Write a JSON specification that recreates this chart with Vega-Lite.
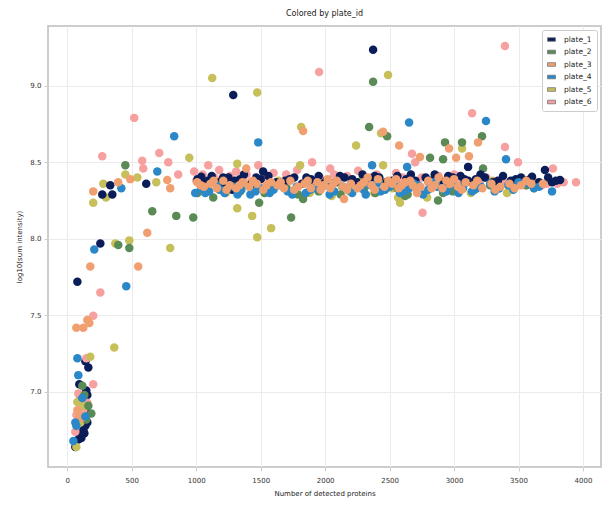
{
"$schema":"https://vega.github.io/schema/vega-lite/v6.json",
"autosize":"none",
"width":553,"height":441,
"padding":{"left":48,"top":26,"right":10,"bottom":44},
"background":"white",
"title":{"text":"Colored by plate_id","font":"DejaVu Sans","fontSize":8,"fontWeight":"normal","color":"#222","offset":8},
"config":{
 "view":{"stroke":"#bdbdbd","strokeWidth":1.5},
 "axis":{"gridColor":"#ebebeb","gridWidth":1,"domain":false,"tickColor":"#cfcfcf","tickSize":4,"labelFont":"DejaVu Sans","labelFontSize":7,"labelColor":"#333","titleFont":"DejaVu Sans","titleFontSize":7,"titleFontWeight":"normal","titleColor":"#222"},
 "legend":{"labelFont":"DejaVu Sans","labelFontSize":7.5,"labelColor":"#222"}
},
"data":{"values":[
{"plate":"plate_1","x":62,"y":6.64},{"plate":"plate_1","x":85,"y":6.69},{"plate":"plate_1","x":101,"y":6.72},{"plate":"plate_1","x":124,"y":6.75},{"plate":"plate_1","x":140,"y":6.78},{"plate":"plate_1","x":116,"y":6.82},{"plate":"plate_1","x":147,"y":6.87},{"plate":"plate_1","x":132,"y":6.915},{"plate":"plate_1","x":101,"y":6.95},{"plate":"plate_1","x":155,"y":6.98},{"plate":"plate_1","x":147,"y":7.01},{"plate":"plate_1","x":93,"y":7.05},{"plate":"plate_1","x":163,"y":7.16},{"plate":"plate_1","x":140,"y":7.2},{"plate":"plate_1","x":109,"y":6.7},{"plate":"plate_1","x":132,"y":6.73},{"plate":"plate_1","x":155,"y":6.8},
{"plate":"plate_6","x":201,"y":7.497},{"plate":"plate_6","x":256,"y":7.65},{"plate":"plate_6","x":201,"y":7.05},{"plate":"plate_6","x":85,"y":6.99},{"plate":"plate_6","x":155,"y":6.93},{"plate":"plate_6","x":70,"y":6.85},{"plate":"plate_6","x":62,"y":6.74},{"plate":"plate_6","x":116,"y":6.91},{"plate":"plate_6","x":124,"y":6.88},{"plate":"plate_6","x":147,"y":7.22},{"plate":"plate_6","x":101,"y":6.84},
{"plate":"plate_5","x":178,"y":7.23},{"plate":"plate_5","x":78,"y":6.935},{"plate":"plate_5","x":70,"y":6.64},{"plate":"plate_5","x":101,"y":6.8},{"plate":"plate_5","x":132,"y":6.91},{"plate":"plate_5","x":364,"y":7.29},
{"plate":"plate_2","x":116,"y":7.04},{"plate":"plate_2","x":186,"y":6.86},{"plate":"plate_2","x":163,"y":6.91},{"plate":"plate_2","x":132,"y":6.98},{"plate":"plate_2","x":147,"y":6.82},
{"plate":"plate_3","x":78,"y":6.88},{"plate":"plate_3","x":93,"y":6.85},{"plate":"plate_3","x":109,"y":6.83},{"plate":"plate_3","x":70,"y":7.42},{"plate":"plate_3","x":124,"y":7.42},{"plate":"plate_3","x":155,"y":7.47},{"plate":"plate_3","x":171,"y":7.45},{"plate":"plate_3","x":178,"y":7.82},{"plate":"plate_3","x":550,"y":7.82},{"plate":"plate_3","x":620,"y":8.04},
{"plate":"plate_4","x":78,"y":7.22},{"plate":"plate_4","x":85,"y":7.11},{"plate":"plate_4","x":116,"y":6.96},{"plate":"plate_4","x":140,"y":6.84},{"plate":"plate_4","x":47,"y":6.68},{"plate":"plate_4","x":62,"y":6.8},{"plate":"plate_4","x":70,"y":6.78},{"plate":"plate_4","x":209,"y":7.93},{"plate":"plate_4","x":457,"y":7.69},
{"plate":"plate_6","x":1000,"y":8.38},{"plate":"plate_6","x":1050,"y":8.42},{"plate":"plate_6","x":1093,"y":8.48},{"plate":"plate_6","x":1140,"y":8.4},{"plate":"plate_6","x":1178,"y":8.45},{"plate":"plate_6","x":1230,"y":8.36},{"plate":"plate_6","x":1264,"y":8.41},{"plate":"plate_6","x":1310,"y":8.44},{"plate":"plate_6","x":1360,"y":8.39},{"plate":"plate_6","x":1420,"y":8.37},{"plate":"plate_6","x":1481,"y":8.48},{"plate":"plate_6","x":1540,"y":8.4},{"plate":"plate_6","x":1600,"y":8.43},{"plate":"plate_6","x":1650,"y":8.36},{"plate":"plate_6","x":1698,"y":8.42},{"plate":"plate_6","x":1783,"y":8.45},{"plate":"plate_6","x":1850,"y":8.38},{"plate":"plate_6","x":1899,"y":8.5},{"plate":"plate_6","x":1960,"y":8.4},{"plate":"plate_6","x":2039,"y":8.46},{"plate":"plate_6","x":2100,"y":8.37},{"plate":"plate_6","x":2170,"y":8.41},{"plate":"plate_6","x":2256,"y":8.445},{"plate":"plate_6","x":2320,"y":8.38},{"plate":"plate_6","x":2400,"y":8.42},{"plate":"plate_6","x":2500,"y":8.36},{"plate":"plate_6","x":2600,"y":8.4},{"plate":"plate_6","x":2674,"y":8.555},{"plate":"plate_6","x":2698,"y":8.5},{"plate":"plate_6","x":2800,"y":8.37},{"plate":"plate_6","x":2880,"y":8.41},{"plate":"plate_6","x":2960,"y":8.36},{"plate":"plate_6","x":3050,"y":8.39},{"plate":"plate_6","x":3150,"y":8.35},{"plate":"plate_6","x":3250,"y":8.4},{"plate":"plate_6","x":3320,"y":8.37},{"plate":"plate_6","x":3395,"y":8.36},{"plate":"plate_6","x":3450,"y":8.35},{"plate":"plate_6","x":3530,"y":8.38},{"plate":"plate_6","x":3600,"y":8.36},{"plate":"plate_6","x":3680,"y":8.35},{"plate":"plate_6","x":3767,"y":8.46},{"plate":"plate_6","x":3800,"y":8.36},{"plate":"plate_6","x":3946,"y":8.37},
{"plate":"plate_6","x":1025,"y":8.36},{"plate":"plate_6","x":1200,"y":8.39},{"plate":"plate_6","x":1390,"y":8.42},{"plate":"plate_6","x":1570,"y":8.37},{"plate":"plate_6","x":1740,"y":8.39},{"plate":"plate_6","x":1930,"y":8.36},{"plate":"plate_6","x":2070,"y":8.42},{"plate":"plate_6","x":2210,"y":8.38},{"plate":"plate_6","x":2360,"y":8.4},{"plate":"plate_6","x":2450,"y":8.37},{"plate":"plate_6","x":2550,"y":8.43},{"plate":"plate_6","x":2750,"y":8.4},{"plate":"plate_6","x":2920,"y":8.38},{"plate":"plate_6","x":3000,"y":8.42},{"plate":"plate_6","x":3100,"y":8.37},{"plate":"plate_6","x":3200,"y":8.36},{"plate":"plate_6","x":3290,"y":8.35},{"plate":"plate_6","x":3360,"y":8.38},{"plate":"plate_6","x":3490,"y":8.37},{"plate":"plate_6","x":3560,"y":8.35},{"plate":"plate_6","x":3640,"y":8.37},{"plate":"plate_6","x":3720,"y":8.36},{"plate":"plate_6","x":3850,"y":8.37},
{"plate":"plate_6","x":271,"y":8.54},{"plate":"plate_6","x":519,"y":8.79},{"plate":"plate_6","x":581,"y":8.51},{"plate":"plate_6","x":589,"y":8.46},{"plate":"plate_6","x":713,"y":8.56},{"plate":"plate_6","x":783,"y":8.5},{"plate":"plate_6","x":984,"y":8.44},{"plate":"plate_6","x":860,"y":8.42},
{"plate":"plate_6","x":3395,"y":9.26},{"plate":"plate_6","x":1953,"y":9.09},{"plate":"plate_6","x":3140,"y":8.82},{"plate":"plate_6","x":3395,"y":8.6},{"plate":"plate_6","x":3496,"y":8.5},{"plate":"plate_6","x":2756,"y":8.17},
{"plate":"plate_5","x":1050,"y":8.33},{"plate":"plate_5","x":1150,"y":8.37},{"plate":"plate_5","x":1230,"y":8.3},{"plate":"plate_5","x":1318,"y":8.49},{"plate":"plate_5","x":1400,"y":8.35},{"plate":"plate_5","x":1560,"y":8.31},{"plate":"plate_5","x":1640,"y":8.38},{"plate":"plate_5","x":1700,"y":8.33},{"plate":"plate_5","x":1806,"y":8.48},{"plate":"plate_5","x":1880,"y":8.3},{"plate":"plate_5","x":1990,"y":8.36},{"plate":"plate_5","x":2050,"y":8.28},{"plate":"plate_5","x":2130,"y":8.34},{"plate":"plate_5","x":2190,"y":8.31},{"plate":"plate_5","x":2280,"y":8.38},{"plate":"plate_5","x":2380,"y":8.3},{"plate":"plate_5","x":2450,"y":8.48},{"plate":"plate_5","x":2520,"y":8.33},{"plate":"plate_5","x":2566,"y":8.27},{"plate":"plate_5","x":2581,"y":8.235},{"plate":"plate_5","x":2650,"y":8.36},{"plate":"plate_5","x":2730,"y":8.31},{"plate":"plate_5","x":2791,"y":8.27},{"plate":"plate_5","x":2860,"y":8.35},{"plate":"plate_5","x":2990,"y":8.32},{"plate":"plate_5","x":3062,"y":8.59},{"plate":"plate_5","x":3130,"y":8.3},{"plate":"plate_5","x":3200,"y":8.34},{"plate":"plate_5","x":3300,"y":8.38},{"plate":"plate_5","x":3411,"y":8.3},{"plate":"plate_5","x":3500,"y":8.36},{"plate":"plate_5","x":3620,"y":8.33},
{"plate":"plate_5","x":1124,"y":9.05},{"plate":"plate_5","x":1473,"y":8.955},{"plate":"plate_5","x":2488,"y":9.07},{"plate":"plate_5","x":1814,"y":8.73},{"plate":"plate_5","x":2240,"y":8.61},{"plate":"plate_5","x":2434,"y":8.69},{"plate":"plate_5","x":946,"y":8.53},{"plate":"plate_5","x":1318,"y":8.2},{"plate":"plate_5","x":1434,"y":8.15},{"plate":"plate_5","x":1473,"y":8.01},{"plate":"plate_5","x":1581,"y":8.07},{"plate":"plate_5","x":798,"y":7.94},{"plate":"plate_5","x":481,"y":7.99},{"plate":"plate_5","x":372,"y":7.97},{"plate":"plate_5","x":201,"y":8.235},{"plate":"plate_5","x":279,"y":8.36},{"plate":"plate_5","x":300,"y":8.27},{"plate":"plate_5","x":543,"y":8.4},{"plate":"plate_5","x":450,"y":8.42},{"plate":"plate_5","x":690,"y":8.37},
{"plate":"plate_2","x":1010,"y":8.3},{"plate":"plate_2","x":1090,"y":8.35},{"plate":"plate_2","x":1180,"y":8.32},{"plate":"plate_2","x":1260,"y":8.38},{"plate":"plate_2","x":1340,"y":8.31},{"plate":"plate_2","x":1450,"y":8.36},{"plate":"plate_2","x":1530,"y":8.3},{"plate":"plate_2","x":1620,"y":8.35},{"plate":"plate_2","x":1700,"y":8.33},{"plate":"plate_2","x":1790,"y":8.29},{"plate":"plate_2","x":1870,"y":8.37},{"plate":"plate_2","x":1950,"y":8.31},{"plate":"plate_2","x":2040,"y":8.34},{"plate":"plate_2","x":2120,"y":8.29},{"plate":"plate_2","x":2200,"y":8.36},{"plate":"plate_2","x":2300,"y":8.32},{"plate":"plate_2","x":2390,"y":8.3},{"plate":"plate_2","x":2470,"y":8.37},{"plate":"plate_2","x":2560,"y":8.33},{"plate":"plate_2","x":2640,"y":8.29},{"plate":"plate_2","x":2720,"y":8.35},{"plate":"plate_2","x":2800,"y":8.38},{"plate":"plate_2","x":2990,"y":8.31},{"plate":"plate_2","x":3080,"y":8.36},{"plate":"plate_2","x":3160,"y":8.32},{"plate":"plate_2","x":3280,"y":8.35},{"plate":"plate_2","x":3350,"y":8.33},{"plate":"plate_2","x":3450,"y":8.37},{"plate":"plate_2","x":3560,"y":8.35},{"plate":"plate_2","x":3650,"y":8.36},
{"plate":"plate_2","x":2372,"y":9.026},{"plate":"plate_2","x":2341,"y":8.73},{"plate":"plate_2","x":2481,"y":8.67},{"plate":"plate_2","x":2930,"y":8.63},{"plate":"plate_2","x":3062,"y":8.63},{"plate":"plate_2","x":3217,"y":8.67},{"plate":"plate_2","x":2915,"y":8.52},{"plate":"plate_2","x":2814,"y":8.53},{"plate":"plate_2","x":3225,"y":8.46},{"plate":"plate_2","x":1488,"y":8.235},{"plate":"plate_2","x":1736,"y":8.14},{"plate":"plate_2","x":977,"y":8.14},{"plate":"plate_2","x":1132,"y":8.27},{"plate":"plate_2","x":845,"y":8.15},{"plate":"plate_2","x":659,"y":8.18},{"plate":"plate_2","x":2876,"y":8.25},{"plate":"plate_2","x":1829,"y":8.26},{"plate":"plate_2","x":2915,"y":8.3},{"plate":"plate_2","x":2620,"y":8.28},{"plate":"plate_2","x":450,"y":8.48},{"plate":"plate_2","x":395,"y":7.96},{"plate":"plate_2","x":481,"y":7.94},
{"plate":"plate_1","x":1010,"y":8.39},{"plate":"plate_1","x":1060,"y":8.36},{"plate":"plate_1","x":1120,"y":8.41},{"plate":"plate_1","x":1180,"y":8.37},{"plate":"plate_1","x":1250,"y":8.4},{"plate":"plate_1","x":1300,"y":8.38},{"plate":"plate_1","x":1370,"y":8.42},{"plate":"plate_1","x":1430,"y":8.36},{"plate":"plate_1","x":1500,"y":8.39},{"plate":"plate_1","x":1560,"y":8.41},{"plate":"plate_1","x":1620,"y":8.37},{"plate":"plate_1","x":1690,"y":8.38},{"plate":"plate_1","x":1760,"y":8.4},{"plate":"plate_1","x":1820,"y":8.36},{"plate":"plate_1","x":1890,"y":8.39},{"plate":"plate_1","x":1950,"y":8.41},{"plate":"plate_1","x":2010,"y":8.38},{"plate":"plate_1","x":2080,"y":8.37},{"plate":"plate_1","x":2150,"y":8.4},{"plate":"plate_1","x":2210,"y":8.39},{"plate":"plate_1","x":2290,"y":8.42},{"plate":"plate_1","x":2350,"y":8.38},{"plate":"plate_1","x":2420,"y":8.4},{"plate":"plate_1","x":2480,"y":8.37},{"plate":"plate_1","x":2560,"y":8.41},{"plate":"plate_1","x":2630,"y":8.39},{"plate":"plate_1","x":2700,"y":8.38},{"plate":"plate_1","x":2780,"y":8.4},{"plate":"plate_1","x":2850,"y":8.42},{"plate":"plate_1","x":2920,"y":8.37},{"plate":"plate_1","x":2990,"y":8.4},{"plate":"plate_1","x":3050,"y":8.41},{"plate":"plate_1","x":3110,"y":8.38},{"plate":"plate_1","x":3170,"y":8.39},{"plate":"plate_1","x":3240,"y":8.4},{"plate":"plate_1","x":3300,"y":8.37},{"plate":"plate_1","x":3380,"y":8.41},{"plate":"plate_1","x":3440,"y":8.38},{"plate":"plate_1","x":3520,"y":8.4},{"plate":"plate_1","x":3590,"y":8.39},{"plate":"plate_1","x":3660,"y":8.37},{"plate":"plate_1","x":3730,"y":8.4},{"plate":"plate_1","x":3790,"y":8.38},
{"plate":"plate_1","x":1090,"y":8.38},{"plate":"plate_1","x":1215,"y":8.36},{"plate":"plate_1","x":1340,"y":8.39},{"plate":"plate_1","x":1465,"y":8.4},{"plate":"plate_1","x":1590,"y":8.36},{"plate":"plate_1","x":1725,"y":8.39},{"plate":"plate_1","x":1855,"y":8.4},{"plate":"plate_1","x":1980,"y":8.36},{"plate":"plate_1","x":2115,"y":8.41},{"plate":"plate_1","x":2250,"y":8.37},{"plate":"plate_1","x":2385,"y":8.41},{"plate":"plate_1","x":2520,"y":8.38},{"plate":"plate_1","x":2665,"y":8.42},{"plate":"plate_1","x":2815,"y":8.38},{"plate":"plate_1","x":2955,"y":8.41},{"plate":"plate_1","x":3080,"y":8.39},{"plate":"plate_1","x":3205,"y":8.42},{"plate":"plate_1","x":3340,"y":8.38},{"plate":"plate_1","x":3480,"y":8.39},{"plate":"plate_1","x":3560,"y":8.38},{"plate":"plate_1","x":3760,"y":8.37},
{"plate":"plate_1","x":1039,"y":8.405},{"plate":"plate_1","x":1209,"y":8.4},{"plate":"plate_1","x":1279,"y":8.32},{"plate":"plate_1","x":1434,"y":8.365},{"plate":"plate_1","x":1519,"y":8.44},{"plate":"plate_1","x":333,"y":8.35},{"plate":"plate_1","x":271,"y":8.29},{"plate":"plate_1","x":349,"y":8.29},{"plate":"plate_1","x":612,"y":8.36},{"plate":"plate_1","x":256,"y":7.97},{"plate":"plate_1","x":78,"y":7.72},{"plate":"plate_1","x":2372,"y":9.235},{"plate":"plate_1","x":1287,"y":8.94},{"plate":"plate_1","x":3109,"y":8.47},{"plate":"plate_1","x":3705,"y":8.45},{"plate":"plate_1","x":3822,"y":8.385},{"plate":"plate_1","x":3605,"y":8.405},
{"plate":"plate_4","x":992,"y":8.3},{"plate":"plate_4","x":1040,"y":8.33},{"plate":"plate_4","x":1100,"y":8.31},{"plate":"plate_4","x":1160,"y":8.35},{"plate":"plate_4","x":1220,"y":8.3},{"plate":"plate_4","x":1290,"y":8.34},{"plate":"plate_4","x":1350,"y":8.32},{"plate":"plate_4","x":1420,"y":8.29},{"plate":"plate_4","x":1500,"y":8.33},{"plate":"plate_4","x":1570,"y":8.3},{"plate":"plate_4","x":1640,"y":8.35},{"plate":"plate_4","x":1710,"y":8.31},{"plate":"plate_4","x":1780,"y":8.34},{"plate":"plate_4","x":1850,"y":8.3},{"plate":"plate_4","x":1920,"y":8.33},{"plate":"plate_4","x":2000,"y":8.35},{"plate":"plate_4","x":2070,"y":8.31},{"plate":"plate_4","x":2140,"y":8.34},{"plate":"plate_4","x":2210,"y":8.3},{"plate":"plate_4","x":2280,"y":8.33},{"plate":"plate_4","x":2350,"y":8.35},{"plate":"plate_4","x":2430,"y":8.31},{"plate":"plate_4","x":2500,"y":8.34},{"plate":"plate_4","x":2580,"y":8.3},{"plate":"plate_4","x":2650,"y":8.33},{"plate":"plate_4","x":2720,"y":8.35},{"plate":"plate_4","x":2800,"y":8.32},{"plate":"plate_4","x":2870,"y":8.34},{"plate":"plate_4","x":2940,"y":8.31},{"plate":"plate_4","x":3000,"y":8.35},{"plate":"plate_4","x":3070,"y":8.33},{"plate":"plate_4","x":3140,"y":8.31},{"plate":"plate_4","x":3210,"y":8.34},{"plate":"plate_4","x":3280,"y":8.36},{"plate":"plate_4","x":3350,"y":8.33},{"plate":"plate_4","x":3420,"y":8.35},{"plate":"plate_4","x":3500,"y":8.37},{"plate":"plate_4","x":3580,"y":8.36},{"plate":"plate_4","x":3660,"y":8.34},
{"plate":"plate_4","x":1070,"y":8.3},{"plate":"plate_4","x":1190,"y":8.32},{"plate":"plate_4","x":1320,"y":8.29},{"plate":"plate_4","x":1460,"y":8.31},{"plate":"plate_4","x":1600,"y":8.32},{"plate":"plate_4","x":1745,"y":8.29},{"plate":"plate_4","x":1885,"y":8.32},{"plate":"plate_4","x":2035,"y":8.29},{"plate":"plate_4","x":2175,"y":8.32},{"plate":"plate_4","x":2315,"y":8.29},{"plate":"plate_4","x":2465,"y":8.32},{"plate":"plate_4","x":2615,"y":8.31},{"plate":"plate_4","x":2760,"y":8.29},{"plate":"plate_4","x":2905,"y":8.33},{"plate":"plate_4","x":3035,"y":8.3},{"plate":"plate_4","x":3175,"y":8.33},{"plate":"plate_4","x":3315,"y":8.31},{"plate":"plate_4","x":3460,"y":8.32},{"plate":"plate_4","x":3620,"y":8.33},{"plate":"plate_4","x":2400,"y":8.36},{"plate":"plate_4","x":2550,"y":8.37},{"plate":"plate_4","x":2690,"y":8.36},{"plate":"plate_4","x":2830,"y":8.37},
{"plate":"plate_4","x":2651,"y":8.76},{"plate":"plate_4","x":3248,"y":8.77},{"plate":"plate_4","x":829,"y":8.67},{"plate":"plate_4","x":1481,"y":8.63},{"plate":"plate_4","x":698,"y":8.44},{"plate":"plate_4","x":419,"y":8.33},{"plate":"plate_4","x":3403,"y":8.52},{"plate":"plate_4","x":3760,"y":8.31},{"plate":"plate_4","x":2636,"y":8.47},{"plate":"plate_4","x":2364,"y":8.48},
{"plate":"plate_3","x":1008,"y":8.37},{"plate":"plate_3","x":1060,"y":8.34},{"plate":"plate_3","x":1110,"y":8.36},{"plate":"plate_3","x":1160,"y":8.33},{"plate":"plate_3","x":1210,"y":8.38},{"plate":"plate_3","x":1260,"y":8.35},{"plate":"plate_3","x":1310,"y":8.33},{"plate":"plate_3","x":1360,"y":8.37},{"plate":"plate_3","x":1410,"y":8.34},{"plate":"plate_3","x":1470,"y":8.36},{"plate":"plate_3","x":1520,"y":8.32},{"plate":"plate_3","x":1580,"y":8.37},{"plate":"plate_3","x":1630,"y":8.35},{"plate":"plate_3","x":1680,"y":8.33},{"plate":"plate_3","x":1730,"y":8.38},{"plate":"plate_3","x":1790,"y":8.34},{"plate":"plate_3","x":1840,"y":8.36},{"plate":"plate_3","x":1890,"y":8.33},{"plate":"plate_3","x":1940,"y":8.37},{"plate":"plate_3","x":1990,"y":8.35},{"plate":"plate_3","x":2040,"y":8.33},{"plate":"plate_3","x":2090,"y":8.38},{"plate":"plate_3","x":2140,"y":8.34},{"plate":"plate_3","x":2200,"y":8.36},{"plate":"plate_3","x":2250,"y":8.33},{"plate":"plate_3","x":2300,"y":8.37},{"plate":"plate_3","x":2360,"y":8.35},{"plate":"plate_3","x":2410,"y":8.39},{"plate":"plate_3","x":2460,"y":8.34},{"plate":"plate_3","x":2520,"y":8.36},{"plate":"plate_3","x":2570,"y":8.33},{"plate":"plate_3","x":2620,"y":8.37},{"plate":"plate_3","x":2680,"y":8.35},{"plate":"plate_3","x":2740,"y":8.34},{"plate":"plate_3","x":2800,"y":8.38},{"plate":"plate_3","x":2850,"y":8.35},{"plate":"plate_3","x":2910,"y":8.33},{"plate":"plate_3","x":2970,"y":8.36},{"plate":"plate_3","x":3030,"y":8.34},{"plate":"plate_3","x":3090,"y":8.37},{"plate":"plate_3","x":3150,"y":8.35},{"plate":"plate_3","x":3220,"y":8.33},{"plate":"plate_3","x":3290,"y":8.36},{"plate":"plate_3","x":3360,"y":8.34},{"plate":"plate_3","x":3430,"y":8.36},{"plate":"plate_3","x":3520,"y":8.35},{"plate":"plate_3","x":3600,"y":8.36},{"plate":"plate_3","x":3690,"y":8.36},
{"plate":"plate_3","x":1035,"y":8.35},{"plate":"plate_3","x":1135,"y":8.38},{"plate":"plate_3","x":1235,"y":8.32},{"plate":"plate_3","x":1335,"y":8.35},{"plate":"plate_3","x":1440,"y":8.38},{"plate":"plate_3","x":1545,"y":8.35},{"plate":"plate_3","x":1655,"y":8.37},{"plate":"plate_3","x":1760,"y":8.32},{"plate":"plate_3","x":1865,"y":8.38},{"plate":"plate_3","x":1965,"y":8.32},{"plate":"plate_3","x":2065,"y":8.36},{"plate":"plate_3","x":2170,"y":8.32},{"plate":"plate_3","x":2275,"y":8.35},{"plate":"plate_3","x":2385,"y":8.32},{"plate":"plate_3","x":2490,"y":8.38},{"plate":"plate_3","x":2595,"y":8.35},{"plate":"plate_3","x":2710,"y":8.32},{"plate":"plate_3","x":2825,"y":8.33},{"plate":"plate_3","x":2940,"y":8.38},{"plate":"plate_3","x":3060,"y":8.32},{"plate":"plate_3","x":3180,"y":8.38},{"plate":"plate_3","x":3320,"y":8.32},{"plate":"plate_3","x":3470,"y":8.33},{"plate":"plate_3","x":3560,"y":8.38},{"plate":"plate_3","x":2020,"y":8.39},{"plate":"plate_3","x":2330,"y":8.4},{"plate":"plate_3","x":2550,"y":8.39},{"plate":"plate_3","x":2660,"y":8.38},{"plate":"plate_3","x":2880,"y":8.4},{"plate":"plate_3","x":3000,"y":8.39},
{"plate":"plate_3","x":1829,"y":8.705},{"plate":"plate_3","x":2450,"y":8.7},{"plate":"plate_3","x":2574,"y":8.61},{"plate":"plate_3","x":3186,"y":8.63},{"plate":"plate_3","x":2736,"y":8.535},{"plate":"plate_3","x":2961,"y":8.59},{"plate":"plate_3","x":3016,"y":8.53},{"plate":"plate_3","x":3116,"y":8.54},{"plate":"plate_3","x":2147,"y":8.26},{"plate":"plate_3","x":2713,"y":8.3},{"plate":"plate_3","x":1388,"y":8.46},{"plate":"plate_3","x":201,"y":8.31},{"plate":"plate_3","x":395,"y":8.37},{"plate":"plate_3","x":488,"y":8.39},{"plate":"plate_3","x":775,"y":8.385},{"plate":"plate_3","x":798,"y":8.33}
]},
"mark":{"type":"circle","size":72,"opacity":1},
"encoding":{
 "x":{"field":"x","type":"quantitative","scale":{"domain":[-150,4140],"nice":false,"zero":false},"axis":{"title":"Number of detected proteins","values":[0,500,1000,1500,2000,2500,3000,3500,4000],"format":"d","labelPadding":5,"titlePadding":6}},
 "y":{"field":"y","type":"quantitative","scale":{"domain":[6.51,9.39],"nice":false,"zero":false},"axis":{"title":"log10(sum intensity)","values":[7,7.5,8,8.5,9],"format":".1f","labelPadding":3,"titlePadding":7}},
 "color":{"field":"plate","type":"nominal","scale":{"domain":["plate_1","plate_2","plate_3","plate_4","plate_5","plate_6"],"range":["#0b1d58","#5a8a56","#f0a070","#2a88c8","#c6bf5a","#f7a0a0"]},
  "legend":{"title":null,"orient":"top-right","offset":4,"padding":5,"fillColor":"white","strokeColor":"#cccccc","cornerRadius":2,"symbolType":"M-1,-0.45H1V0.45H-1Z","symbolSize":64,"symbolStrokeColor":"#777","symbolStrokeWidth":0.8,"symbolOpacity":1,"rowPadding":4.5,"labelOffset":8}}
}
}
